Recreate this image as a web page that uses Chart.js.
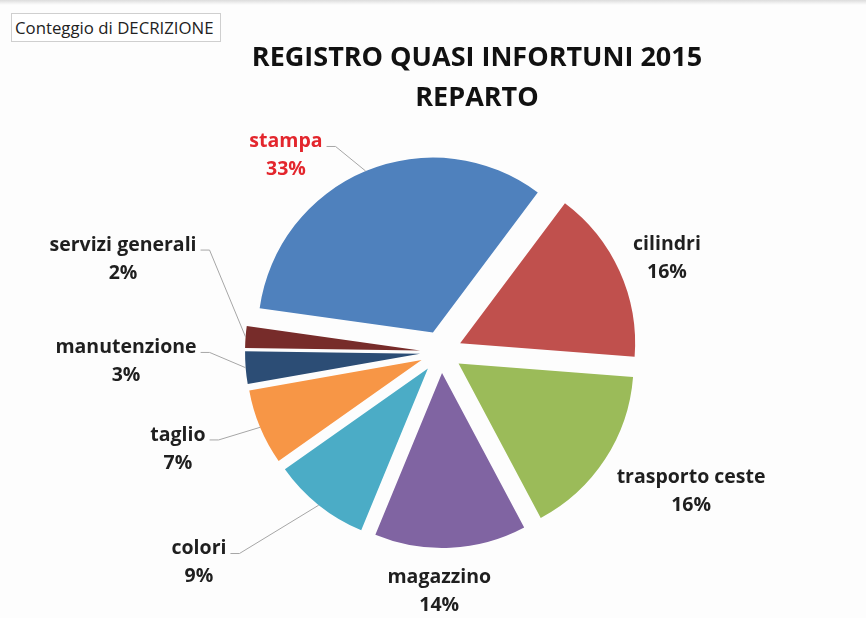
<!DOCTYPE html>
<html>
<head>
<meta charset="utf-8">
<script src="https://cdn.jsdelivr.net/npm/chart.js@4.4.1/dist/chart.umd.min.js"></script>
<style>
  html, body { margin: 0; padding: 0; background: #fdfdfd; }
  #wrap { position: relative; width: 866px; height: 618px; overflow: hidden; }
  #topbar { position: absolute; left: 0; top: 0; width: 866px; height: 5px;
            background: linear-gradient(#dcdcdc, #f4f4f4 70%, #fdfdfd); }
  #pivot { position: absolute; left: 11px; top: 13px; height: 27px; line-height: 27px;
           padding: 0 6px 0 3px; border: 1px solid #cfcfcf; background: #fff;
           font-family: "Open Sans", Lato, sans-serif; font-size: 16.8px; color: #222; }
  canvas { position: absolute; left: 0; top: 0; }
</style>
</head>
<body>
<div id="wrap">
  <div id="topbar"></div>
  <canvas id="c" width="866" height="618"></canvas>
  <div id="pivot">Conteggio di DECRIZIONE</div>
</div>
<script>
// ---- data ----
const categories = ['stampa', 'cilindri', 'trasporto ceste', 'magazzino', 'colori', 'taglio', 'manutenzione', 'servizi generali'];
const percentValues = [33, 16, 16, 14, 9, 7, 3, 2];
const titleLines = ['REGISTRO QUASI INFORTUNI 2015', 'REPARTO'];

// ---- styles ----
const sliceColors = ['#4F81BD', '#C0504D', '#9BBB59', '#8064A2', '#4BACC6', '#F79646', '#2C4D75', '#772C2A'];
const labelColors = ['#E3262D', '#1f1f1f', '#1f1f1f', '#1f1f1f', '#1f1f1f', '#1f1f1f', '#1f1f1f', '#1f1f1f'];
// label block centres relative to the pie centre, in units of the pie radius
const labelSpots = [[-0.886, -1.123], [1.291, -0.534], [1.429, 0.794], [-0.010, 1.366],
                    [-1.383, 1.203], [-1.503, 0.554], [-1.800, 0.054], [-1.817, -0.531]];
const explodeDistance = 21;
const labelFont = 'bold 19.5px "Open Sans", Lato, sans-serif';
const titleFont = 'bold 27px "Open Sans", Lato, sans-serif';

function sliceGeom(arc) {
  const p = arc.getProps(['x', 'y', 'startAngle', 'endAngle', 'outerRadius'], true);
  const mid = (p.startAngle + p.endAngle) / 2;
  return { x: p.x, y: p.y, r: p.outerRadius, mid,
           ex: p.x + Math.cos(mid) * explodeDistance, ey: p.y + Math.sin(mid) * explodeDistance };
}

const explodePlugin = {
  id: 'explode',
  beforeDatasetDraw(chart, args) {
    const ctx = chart.ctx;
    args.meta.data.forEach(arc => {
      const g = sliceGeom(arc);
      ctx.save();
      ctx.translate(g.ex - g.x, g.ey - g.y);
      ctx.shadowColor = 'rgba(255,255,255,0.9)';
      ctx.shadowBlur = 3;
      arc.draw(ctx, chart.chartArea);
      ctx.restore();
    });
    return false;
  }
};

const labelPlugin = {
  id: 'sliceLabels',
  afterDatasetsDraw(chart) {
    const ctx = chart.ctx;
    const meta = chart.getDatasetMeta(0);
    const data = chart.data.datasets[0].data;
    const total = data.reduce((a, b) => a + b, 0);
    ctx.save();
    ctx.font = labelFont;
    ctx.textAlign = 'center';
    ctx.textBaseline = 'middle';
    meta.data.forEach((arc, i) => {
      const g = sliceGeom(arc);
      const lx = g.x + labelSpots[i][0] * g.r;
      const ly = g.y + labelSpots[i][1] * g.r;
      const nameY = ly - 14, pctY = ly + 14;
      const name = chart.data.labels[i];
      const pct = Math.round(data[i] / total * 100) + '%';
      // leader line to the middle of the slice's outer edge
      const px = g.ex + Math.cos(g.mid) * g.r;
      const py = g.ey + Math.sin(g.mid) * g.r;
      const w = ctx.measureText(name).width;
      // distance from the edge point to the label block
      const bx0 = lx - w / 2, bx1 = lx + w / 2, by0 = nameY - 10, by1 = pctY + 10;
      const ddx = Math.max(bx0 - px, 0, px - bx1);
      const ddy = Math.max(by0 - py, 0, py - by1);
      const leftSide = lx < px;
      const sx = leftSide ? bx1 + 4 : bx0 - 4;
      const sy = nameY + 5;
      if (Math.hypot(ddx, ddy) > 30) {
        const ex = sx + (leftSide ? 9 : -9);
        ctx.beginPath();
        ctx.moveTo(sx, sy);
        ctx.lineTo(ex, sy);
        ctx.lineTo(px, py);
        ctx.strokeStyle = '#a6a6a6';
        ctx.lineWidth = 1;
        ctx.stroke();
      }
      ctx.fillStyle = labelColors[i];
      ctx.fillText(name, lx, nameY);
      ctx.fillText(pct, lx, pctY);
    });
    // chart title
    ctx.font = titleFont;
    ctx.fillStyle = '#111';
    ctx.fillText(titleLines[0], 477, 58);
    ctx.fillText(titleLines[1], 477, 98);
    ctx.restore();
  }
};

new Chart(document.getElementById('c'), {
  type: 'pie',
  data: {
    labels: categories,
    datasets: [{
      data: percentValues,
      backgroundColor: sliceColors,
      borderWidth: 0
    }]
  },
  options: {
    responsive: false,
    animation: false,
    rotation: 278,
    layout: { padding: { left: 266, right: 250, top: 177, bottom: 91 } },
    plugins: {
      legend: { display: false },
      tooltip: { enabled: false },
      title: { display: false }
    }
  },
  plugins: [explodePlugin, labelPlugin]
});
</script>
</body>
</html>
